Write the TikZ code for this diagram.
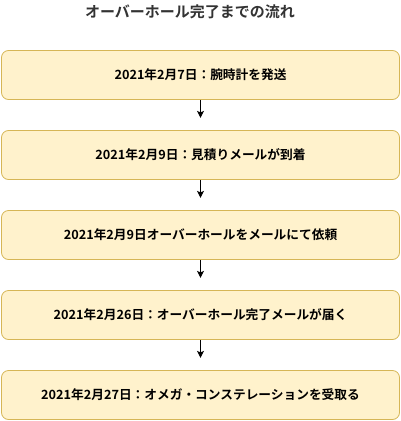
\documentclass[tikz,border=0pt]{standalone}
\usepackage{fontspec}
\newfontfamily\jp{Noto Sans CJK JP Bold}
\usetikzlibrary{arrows.meta}
\definecolor{boxfill}{HTML}{FFF2CC}
\definecolor{boxdraw}{HTML}{D6B656}
\definecolor{titlecol}{HTML}{333333}
\begin{document}
\begin{tikzpicture}[x=1pt,y=-1pt,
  stepbox/.style={draw=boxdraw,fill=boxfill,rounded corners=7pt,line width=0.8pt,
    minimum width=398pt,minimum height=49pt,inner sep=0pt,
    font=\jp\fontsize{12.7pt}{14pt}\selectfont,text=black},
  flow/.style={-{Stealth[length=7pt,width=7pt,inset=1.5pt]},line width=0.9pt,black}]
\useasboundingbox (0,0) rectangle (401,421);
\node[font=\jp\fontsize{15pt}{17pt}\selectfont,text=titlecol] (title) at (190,12) {オーバーホール完了までの流れ};
\node[stepbox] (s1) at (200.5,75) {2021年2月7日：腕時計を発送};
\node[stepbox] (s2) at (200.5,155) {2021年2月9日：見積りメールが到着};
\node[stepbox] (s3) at (200.5,235) {2021年2月9日オーバーホールをメールにて依頼};
\node[stepbox] (s4) at (200.5,315) {2021年2月26日：オーバーホール完了メールが届く};
\node[stepbox] (s5) at (200.5,395) {2021年2月27日：オメガ・コンステレーションを受取る};
\foreach \a/\b in {s1/s2,s2/s3,s3/s4,s4/s5}{
  \coordinate (e\a) at ([yshift=-18pt]\a.south);
  \draw[flow] (\a.south) -- (e\a);
}
\end{tikzpicture}
\end{document}
